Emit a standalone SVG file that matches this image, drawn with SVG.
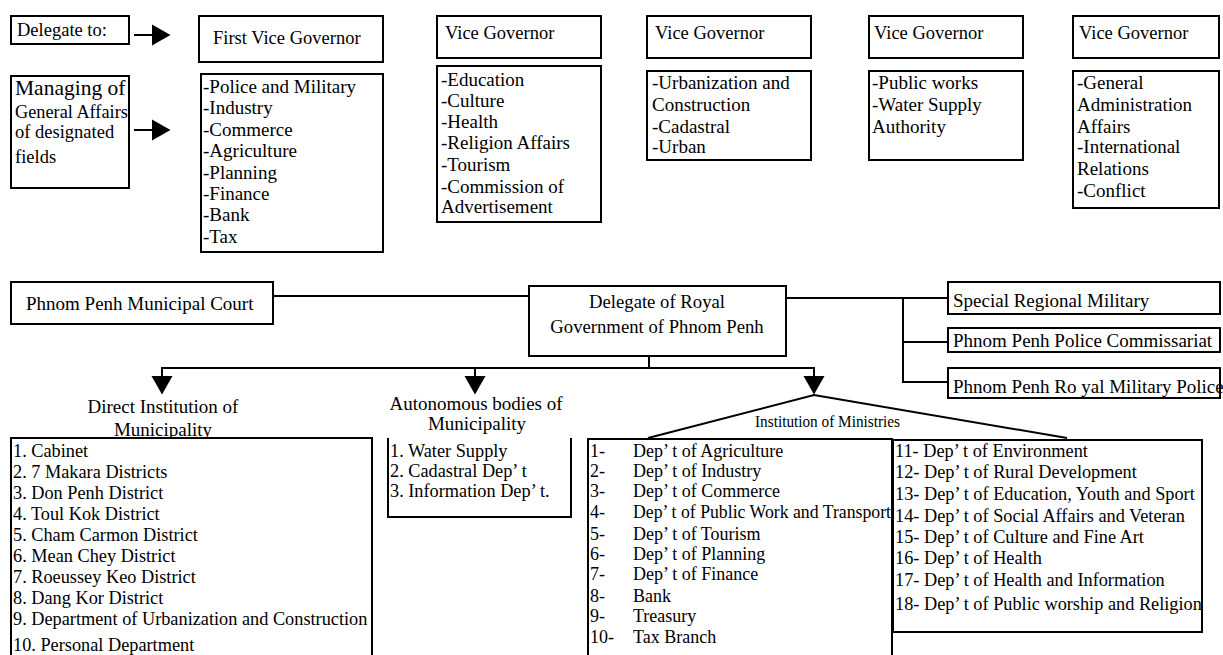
<svg xmlns="http://www.w3.org/2000/svg" width="1223" height="655" viewBox="0 0 1223 655" font-family="'Liberation Serif', 'Times New Roman', 'DejaVu Serif', serif">
<style>
.box{fill:#fff;stroke:#000;stroke-width:2}
.ln{fill:none;stroke:#000;stroke-width:2}
.t{font-size:18.5px}
.l{font-size:19px}
.s{font-size:18.3px}
.m{font-size:18px}
.c{text-anchor:middle}
</style>
<defs>
<marker id="tri" markerUnits="userSpaceOnUse" markerWidth="20" markerHeight="24" viewBox="0 -12 20 24" refX="0" refY="0" orient="auto">
<path d="M0,-10.5 L18.5,0 L0,10.5 Z" fill="#000"/>
</marker>
</defs>
<rect width="1223" height="655" fill="#fff"/>

<g id="connectors">
<line class="ln" x1="134" y1="35" x2="152" y2="35" marker-end="url(#tri)"/>
<line class="ln" x1="134" y1="130" x2="152" y2="130" marker-end="url(#tri)"/>
<line class="ln" x1="273" y1="296" x2="529" y2="296"/>
<line class="ln" x1="786" y1="298" x2="948" y2="298"/>
<polyline class="ln" points="903,298 903,382 948,382"/>
<line class="ln" x1="903" y1="342" x2="948" y2="342"/>
<line class="ln" x1="649" y1="356" x2="649" y2="368"/>
<line class="ln" x1="161" y1="368" x2="815" y2="368"/>
<line class="ln" x1="162" y1="367" x2="162" y2="376" marker-end="url(#tri)"/>
<line class="ln" x1="475" y1="367" x2="475" y2="376" marker-end="url(#tri)"/>
<line class="ln" x1="814" y1="367" x2="814" y2="376" marker-end="url(#tri)"/>
<polyline class="ln" points="648,438 814,395 1067,438"/>
</g>

<g id="delegate-to">
<rect class="box" x="11" y="16" width="118" height="28"/>
<text class="t" x="17" y="36">Delegate to:</text>
</g>
<g id="managing">
<rect class="box" x="11" y="76" width="118" height="112"/>
<text x="15" y="95" font-size="21.5">Managing of</text>
<text x="15" y="118" font-size="18.3">General Affairs</text>
<text x="15" y="138" font-size="18.5">of designated</text>
<text x="15" y="163" font-size="18.5">fields</text>
</g>

<g id="first-vice-governor">
<rect class="box" x="199" y="16" width="184" height="46"/>
<text class="t" x="213" y="44">First Vice Governor</text>
</g>
<g id="first-vice-governor-fields">
<rect class="box" x="201" y="74" width="182" height="178"/>
<text class="l" x="203" y="93">-Police and Military</text>
<text class="l" x="203" y="114">-Industry</text>
<text class="l" x="203" y="136">-Commerce</text>
<text class="l" x="203" y="157">-Agriculture</text>
<text class="l" x="203" y="179">-Planning</text>
<text class="l" x="203" y="200">-Finance</text>
<text class="l" x="203" y="221">-Bank</text>
<text class="l" x="203" y="243">-Tax</text>
</g>

<g id="vice-governor-1">
<rect class="box" x="437" y="16" width="164" height="42"/>
<text class="t" x="445" y="39">Vice Governor</text>
</g>
<g id="vice-governor-1-fields">
<rect class="box" x="437" y="66" width="164" height="156"/>
<text class="l" x="441" y="86">-Education</text>
<text class="l" x="441" y="107">-Culture</text>
<text class="l" x="441" y="128">-Health</text>
<text class="l" x="441" y="149">-Religion Affairs</text>
<text class="l" x="441" y="171">-Tourism</text>
<text class="l" x="441" y="193">-Commission of</text>
<text class="l" x="441" y="213">Advertisement</text>
</g>

<g id="vice-governor-2">
<rect class="box" x="647" y="16" width="164" height="42"/>
<text class="t" x="655" y="39">Vice Governor</text>
</g>
<g id="vice-governor-2-fields">
<rect class="box" x="647" y="71" width="164" height="89"/>
<text class="l" x="652" y="89">-Urbanization and</text>
<text class="l" x="652" y="111">Construction</text>
<text class="l" x="652" y="133">-Cadastral</text>
<text class="l" x="652" y="153">-Urban</text>
</g>

<g id="vice-governor-3">
<rect class="box" x="869" y="16" width="154" height="42"/>
<text class="t" x="874" y="39">Vice Governor</text>
</g>
<g id="vice-governor-3-fields">
<rect class="box" x="869" y="71" width="154" height="89"/>
<text class="l" x="872" y="89">-Public works</text>
<text class="l" x="872" y="111">-Water Supply</text>
<text class="l" x="872" y="133">Authority</text>
</g>

<g id="vice-governor-4">
<rect class="box" x="1073" y="16" width="146" height="42"/>
<text class="t" x="1079" y="39">Vice Governor</text>
</g>
<g id="vice-governor-4-fields">
<rect class="box" x="1073" y="71" width="146" height="137"/>
<text class="l" x="1077" y="89">-General</text>
<text class="l" x="1077" y="111">Administration</text>
<text class="l" x="1077" y="133">Affairs</text>
<text class="l" x="1077" y="153">-International</text>
<text class="l" x="1077" y="175">Relations</text>
<text class="l" x="1077" y="197">-Conflict</text>
</g>

<g id="municipal-court">
<rect class="box" x="11" y="282" width="262" height="42"/>
<text class="l" x="26" y="310">Phnom Penh Municipal Court</text>
</g>

<g id="delegate-royal-government">
<rect class="box" x="529" y="286" width="257" height="70"/>
<text class="c" x="657" y="308" font-size="18.7">Delegate of Royal</text>
<text class="c" x="657" y="333" font-size="18.7">Government of Phnom Penh</text>
</g>

<g id="special-regional-military">
<rect class="box" x="948" y="282" width="272" height="32"/>
<text class="l" x="953" y="307">Special Regional Military</text>
</g>
<g id="police-commissariat">
<rect class="box" x="948" y="328" width="272" height="24"/>
<text class="l" x="953" y="347">Phnom Penh Police Commissariat</text>
</g>
<g id="royal-military-police">
<rect class="box" x="948" y="368" width="272" height="30"/>
<text class="l" x="953" y="393">Phnom Penh Ro yal Military Police</text>
</g>

<g id="direct-institution-label">
<text class="l c" x="163" y="413">Direct Institution of</text>
<text class="l c" x="163" y="436">Municipality</text>
</g>
<g id="direct-institution">
<rect class="box" x="11" y="438" width="361" height="230"/>
<text class="s" x="13" y="457">1. Cabinet</text>
<text class="s" x="13" y="478">2. 7 Makara Districts</text>
<text class="s" x="13" y="499">3. Don Penh District</text>
<text class="s" x="13" y="520">4. Toul Kok District</text>
<text class="s" x="13" y="541">5. Cham Carmon District</text>
<text class="s" x="13" y="562">6. Mean Chey District</text>
<text class="s" x="13" y="583">7. Roeussey Keo District</text>
<text class="s" x="13" y="604">8. Dang Kor District</text>
<text class="s" x="13" y="625">9. Department of Urbanization and Construction</text>
<text class="s" x="13" y="651">10. Personal Department</text>
</g>

<g id="autonomous-bodies-label">
<text class="l c" x="476" y="410">Autonomous bodies of</text>
<text class="l c" x="477" y="430">Municipality</text>
</g>
<g id="autonomous-bodies">
<path class="ln" d="M388,438 V517 H571 V438"/>
<text class="s" x="390" y="457">1. Water Supply</text>
<text class="s" x="390" y="477">2. Cadastral Dep’ t</text>
<text class="s" x="390" y="497">3. Information Dep’ t.</text>
</g>

<g id="institution-of-ministries-label">
<text x="755" y="427" textLength="145" lengthAdjust="spacingAndGlyphs" font-size="17">Institution of Ministries</text>
</g>
<g id="ministries-1">
<rect class="box" x="588" y="439" width="304" height="230"/>
<text class="m" x="590" y="457">1-</text><text class="m" x="633" y="457">Dep’ t of Agriculture</text>
<text class="m" x="590" y="477">2-</text><text class="m" x="633" y="477">Dep’ t of Industry</text>
<text class="m" x="590" y="497">3-</text><text class="m" x="633" y="497">Dep’ t of Commerce</text>
<text class="m" x="590" y="518">4-</text><text class="m" x="633" y="518" textLength="258" lengthAdjust="spacingAndGlyphs">Dep’ t of Public Work and Transport</text>
<text class="m" x="590" y="540">5-</text><text class="m" x="633" y="540">Dep’ t of Tourism</text>
<text class="m" x="590" y="560">6-</text><text class="m" x="633" y="560">Dep’ t of Planning</text>
<text class="m" x="590" y="580">7-</text><text class="m" x="633" y="580">Dep’ t of Finance</text>
<text class="m" x="590" y="602">8-</text><text class="m" x="633" y="602">Bank</text>
<text class="m" x="590" y="622">9-</text><text class="m" x="633" y="622">Treasury</text>
<text class="m" x="590" y="643">10-</text><text class="m" x="633" y="643">Tax Branch</text>
</g>
<g id="ministries-2">
<rect class="box" x="893" y="440" width="309" height="192"/>
<text class="s" x="895" y="457">11- Dep’ t of Environment</text>
<text class="s" x="895" y="478">12- Dep’ t of Rural Development</text>
<text class="s" x="895" y="500">13- Dep’ t of Education, Youth and Sport</text>
<text class="s" x="895" y="522">14- Dep’ t of Social Affairs and Veteran</text>
<text class="s" x="895" y="543">15- Dep’ t of Culture and Fine Art</text>
<text class="s" x="895" y="564">16- Dep’ t of Health</text>
<text class="s" x="895" y="586">17- Dep’ t of Health and Information</text>
<text class="s" x="895" y="610">18- Dep’ t of Public worship and Religion</text>
</g>
</svg>
